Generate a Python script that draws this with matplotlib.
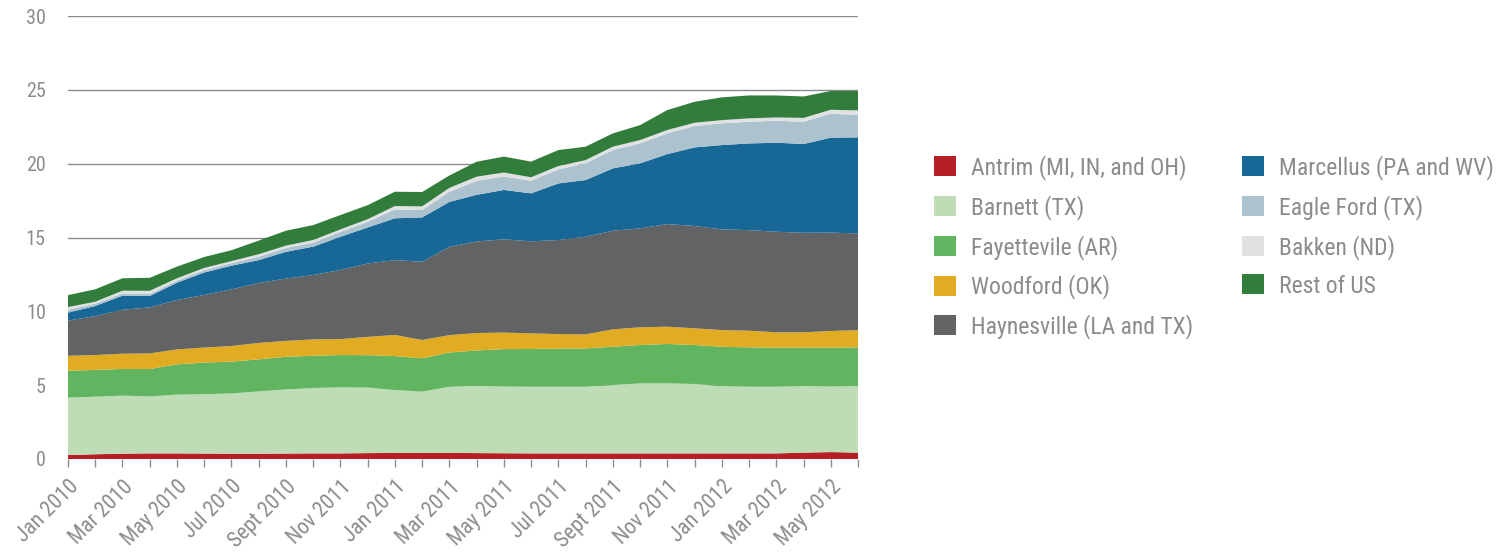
import numpy as np
from matplotlib import pyplot as plt

plt.rcParams["font.family"] = ["Roboto Condensed", "Roboto", "DejaVu Sans"]

x_labels = ["Jan 2010", "Mar 2010", "May 2010", "Jul 2010", "Sept 2010", "Nov 2011",
            "Jan 2011", "Mar 2011", "May 2011", "Jul 2011", "Sept 2011", "Nov 2011",
            "Jan 2012", "Mar 2012", "May 2012"]

names = ["Antrim (MI, IN, and OH)", "Barnett (TX)", "Fayettevile (AR)", "Woodford (OK)",
         "Haynesville (LA and TX)", "Marcellus (PA and WV)", "Eagle Ford (TX)",
         "Bakken (ND)", "Rest of US"]

# monthly values, Jan 2010 .. Jun 2012
antrim = [0.27, 0.32, 0.36, 0.38, 0.38, 0.37, 0.36, 0.36, 0.37, 0.38, 0.38, 0.40, 0.41, 0.41, 0.42,
          0.40, 0.39, 0.38, 0.38, 0.38, 0.38, 0.38, 0.38, 0.38, 0.38, 0.38, 0.38, 0.43, 0.47, 0.43]
barnett = [3.88, 3.90, 3.93, 3.86, 3.98, 4.02, 4.08, 4.22, 4.34, 4.43, 4.47, 4.44, 4.26, 4.15, 4.47,
           4.56, 4.52, 4.52, 4.52, 4.52, 4.63, 4.74, 4.74, 4.70, 4.56, 4.52, 4.52, 4.51, 4.45, 4.51]
fayette = [1.83, 1.81, 1.81, 1.85, 2.05, 2.14, 2.15, 2.17, 2.21, 2.18, 2.19, 2.19, 2.30, 2.26, 2.32,
           2.39, 2.53, 2.55, 2.57, 2.59, 2.59, 2.60, 2.67, 2.64, 2.66, 2.66, 2.64, 2.60, 2.62, 2.62]
woodford = [1.01, 1.01, 1.03, 1.06, 1.01, 1.02, 1.06, 1.11, 1.08, 1.11, 1.08, 1.24, 1.43, 1.24, 1.18,
            1.18, 1.12, 1.06, 0.99, 0.95, 1.18, 1.20, 1.17, 1.13, 1.13, 1.13, 1.04, 1.04, 1.13, 1.17]
haynes = [2.38, 2.64, 2.98, 3.12, 3.35, 3.56, 3.84, 4.06, 4.22, 4.36, 4.68, 4.97, 5.07, 5.30, 5.98,
          6.20, 6.32, 6.23, 6.37, 6.61, 6.68, 6.70, 6.95, 6.93, 6.82, 6.81, 6.81, 6.74, 6.66, 6.55]
marcellus = [0.54, 0.68, 0.95, 0.77, 1.17, 1.52, 1.60, 1.55, 1.81, 1.92, 2.25, 2.44, 2.83, 3.00, 3.04,
             3.16, 3.34, 3.25, 3.83, 3.84, 4.22, 4.40, 4.74, 5.32, 5.71, 5.87, 6.03, 6.01, 6.43, 6.50]
eagle = [0.20, 0.16, 0.14, 0.13, 0.14, 0.15, 0.17, 0.22, 0.26, 0.27, 0.32, 0.38, 0.60, 0.50, 0.68,
         0.95, 0.91, 0.85, 0.95, 1.13, 1.24, 1.35, 1.40, 1.45, 1.47, 1.47, 1.49, 1.51, 1.62, 1.53]
bakken = [0.18, 0.13, 0.20, 0.22, 0.16, 0.16, 0.14, 0.18, 0.16, 0.18, 0.18, 0.18, 0.23, 0.25, 0.27,
          0.28, 0.27, 0.24, 0.23, 0.22, 0.23, 0.23, 0.23, 0.22, 0.22, 0.23, 0.22, 0.26, 0.27, 0.30]
rest = [0.81, 0.84, 0.84, 0.88, 0.79, 0.74, 0.74, 0.92, 1.01, 1.01, 0.97, 0.95, 0.97, 0.97, 0.84,
        1.01, 1.08, 1.06, 1.08, 0.91, 0.90, 1.01, 1.35, 1.42, 1.54, 1.55, 1.49, 1.45, 1.27, 1.31]

colors = ["#B71F26", "#BEDDB6", "#61B460", "#E2AC22", "#626365",
          "#176797", "#ADC2CF", "#E0E1E2", "#327D3C"]
txt = "#8C8C8C"

months = np.arange(len(antrim))

fig = plt.figure(figsize=(14.97, 5.52), dpi=100)
ax = fig.add_axes([68 / 1497, 93 / 552, 790 / 1497, 443 / 552])

polys = ax.stackplot(months, antrim, barnett, fayette, woodford, haynes, marcellus,
                     eagle, bakken, rest, colors=colors, labels=names, linewidth=0)

ax.set_xlim(0, months[-1])
ax.set_ylim(0, 30)
ax.set_yticks(np.arange(0, 31, 5))
ax.yaxis.grid(True, color="#8C8C8C", linewidth=1)
ax.set_axisbelow(True)
for s in ax.spines.values():
    s.set_visible(False)

ax.set_xticks(months)
ax.set_xticklabels([x_labels[i // 2] if i % 2 == 0 else "" for i in months],
                   rotation=45, ha="right", rotation_mode="anchor")
ax.tick_params(axis="x", length=5.5, width=1, color="#8C8C8C", labelsize=15.5,
               labelcolor=txt, pad=7)
ax.tick_params(axis="y", length=0, labelsize=14.5, labelcolor=txt, pad=16)

fig.legend(loc="upper left", bbox_to_anchor=(934 / 1497, 1 - 155 / 552), ncol=2,
           frameon=False, fontsize=17, labelcolor=txt, borderpad=0, borderaxespad=0,
           handlelength=0.93, handleheight=0.93, handletextpad=0.62,
           labelspacing=0.63, columnspacing=2.1)

plt.savefig("out.png", dpi=100)
